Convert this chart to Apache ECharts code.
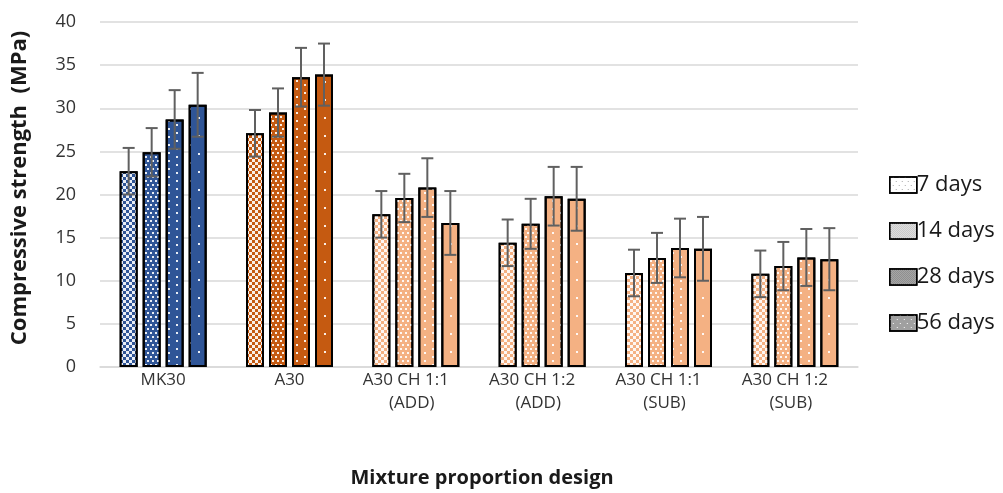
<!DOCTYPE html>
<html>
<head>
<meta charset="utf-8">
<script src="https://cdn.jsdelivr.net/npm/echarts@6/dist/echarts.min.js"></script>
<style>html,body{margin:0;padding:0;background:#fff}#c{width:1003px;height:493px}</style>
</head>
<body>
<div id="c"></div>
<script>
const categories = ['MK30', 'A30', 'A30 CH 1:1\n(ADD)', 'A30 CH 1:2\n(ADD)', 'A30 CH 1:1\n(SUB)', 'A30 CH 1:2\n(SUB)'];
const seriesNames = ['7 days', '14 days', '28 days', '56 days'];
const days7  = [22.7, 27.1, 17.7, 14.4, 10.9, 10.8];
const days14 = [24.9, 29.5, 19.6, 16.6, 12.65, 11.7];
const days28 = [28.7, 33.6, 20.8, 19.8, 13.8, 12.7];
const days56 = [30.4, 33.9, 16.7, 19.5, 13.7, 12.5];
const err7  = [2.7, 2.7, 2.7, 2.7, 2.7, 2.7];
const err14 = [2.8, 2.8, 2.8, 2.9, 2.9, 2.8];
const err28 = [3.4, 3.4, 3.4, 3.4, 3.4, 3.3];
const err56 = [3.7, 3.6, 3.7, 3.7, 3.7, 3.6];
const yTicks = [0, 5, 10, 15, 20, 25, 30, 35, 40];
const xTitle = 'Mixture proportion design';
const yTitle = 'Compressive strength  (MPa)';

const values = [days7, days14, days28, days56];
const errors = [err7, err14, err28, err56];
const groupColors = ['#2F5597', '#C55A11', '#F4B183', '#F4B183', '#F4B183', '#F4B183'];
const W = 'rgba(255,255,255,0.9)';
const decals = [
  {symbol: 'rect', symbolSize: 1, color: W, dashArrayX: [[3, 3], [0, 3, 3, 0]], dashArrayY: [3, 0]},
  {symbol: 'rect', symbolSize: 1, color: W, dashArrayX: [[2, 3], [0, 2, 2, 1]], dashArrayY: [2, 2]},
  {symbol: 'rect', symbolSize: 1, color: W, dashArrayX: [[2, 14], [0, 8, 2, 6]], dashArrayY: [2, 2]},
  {symbol: 'rect', symbolSize: 1, color: W, dashArrayX: [[2, 16], [0, 9, 2, 7]], dashArrayY: [2, 7]}
];
const legendFills = ['#ffffff', '#e6e6e6', '#b0b0b0', '#a0a0a0'];
const legendDecals = [
  {symbol: 'rect', symbolSize: 1, color: '#a8a8a8', dashArrayX: [[1, 5], [0, 3, 1, 2]], dashArrayY: [1, 3]},
  {symbol: 'rect', symbolSize: 1, color: '#c0c0c0', dashArrayX: [[1, 1], [0, 1, 1, 0]], dashArrayY: [1, 0]},
  {symbol: 'rect', symbolSize: 1, color: '#858585', dashArrayX: [[1, 1], [0, 1, 1, 0]], dashArrayY: [1, 0]},
  {symbol: 'rect', symbolSize: 1, color: '#ffffff', dashArrayX: [[1, 6], [0, 3, 1, 3]], dashArrayY: [1, 3]}
];

const FONT = '"Open Sans", sans-serif';
const barWidth = 18;
const gapPx = 5;

const series = [];
seriesNames.forEach((name, i) => {
  series.push({
    name: name,
    type: 'bar',
    barWidth: barWidth,
    barGap: (gapPx / barWidth * 100) + '%',
    data: values[i].map((v, j) => ({
      value: v,
      itemStyle: {color: groupColors[j], borderColor: '#000', borderWidth: 2, decal: decals[i]}
    })),
    z: 2
  });
});
seriesNames.forEach((name, i) => {
  const offset = (i - 1.5) * (barWidth + gapPx);
  series.push({
    name: name + ' err',
    type: 'custom',
    z: 5,
    data: values[i].map((v, j) => [j, v, errors[i][j]]),
    renderItem: function (params, api) {
      const x = api.value(0), v = api.value(1), e = api.value(2);
      const top = api.coord([x, v + e]);
      const bot = api.coord([x, v - e]);
      const cx = top[0] + offset;
      const st = {stroke: '#606060', lineWidth: 2};
      return {
        type: 'group',
        children: [
          {type: 'line', shape: {x1: cx, y1: top[1], x2: cx, y2: bot[1]}, style: st},
          {type: 'line', shape: {x1: cx - 6, y1: top[1], x2: cx + 6, y2: top[1]}, style: st},
          {type: 'line', shape: {x1: cx - 6, y1: bot[1], x2: cx + 6, y2: bot[1]}, style: st}
        ]
      };
    },
    tooltip: {show: false}
  });
});

const chart = echarts.init(document.getElementById('c'), null, {renderer: 'canvas'});
chart.setOption({
  animation: false,
  backgroundColor: '#fff',
  grid: {left: 100, right: 145, top: 22, bottom: 121},
  legend: {
    orient: 'vertical',
    left: 884,
    top: 169,
    itemWidth: 27,
    itemHeight: 16,
    itemGap: 24,
    textStyle: {fontFamily: FONT, fontSize: 22, color: '#1a1a1a', padding: [0, 0, 0, -5]},
    data: seriesNames.map((n, i) => ({
      name: n,
      icon: 'rect',
      itemStyle: {color: legendFills[i], borderColor: '#000', borderWidth: 1.5, decal: legendDecals[i]}
    }))
  },
  graphic: [{
    type: 'text',
    x: 20,
    y: 188,
    rotation: Math.PI / 2,
    style: {text: yTitle, font: 'bold 22px "Open Sans", sans-serif', fill: '#1a1a1a', align: 'center', verticalAlign: 'middle'}
  }],
  xAxis: {
    type: 'category',
    data: categories,
    axisTick: {show: false},
    axisLine: {lineStyle: {color: '#d9d9d9', width: 1.5}},
    axisLabel: {
      fontFamily: FONT, fontSize: 17, color: '#333333', lineHeight: 23, margin: 2, interval: 0,
      formatter: function (v) {
        if (v.indexOf('\n') < 0) return v;
        const parts = v.split('\n');
        return '{a|' + parts[0] + '}\n{b|' + parts[1] + '}';
      },
      rich: {
        a: {fontFamily: FONT, fontSize: 17, color: '#333333', lineHeight: 23, padding: [0, 20, 0, 0]},
        b: {fontFamily: FONT, fontSize: 17, color: '#333333', lineHeight: 23, padding: [0, 8, 0, 0]}
      }
    },
    name: xTitle,
    nameLocation: 'middle',
    nameGap: 101,
    nameTextStyle: {fontFamily: FONT, fontSize: 20, fontWeight: 'bold', color: '#1a1a1a', padding: [0, 0, 0, 6]}
  },
  yAxis: {
    type: 'value',
    min: yTicks[0],
    max: yTicks[yTicks.length - 1],
    interval: yTicks[1] - yTicks[0],
    axisLine: {show: false},
    axisTick: {show: false},
    splitLine: {lineStyle: {color: '#d9d9d9', width: 1.5}},
    axisLabel: {fontFamily: FONT, fontSize: 18, color: '#333333', margin: 24}
  },
  series: series
});
</script>
</body>
</html>
